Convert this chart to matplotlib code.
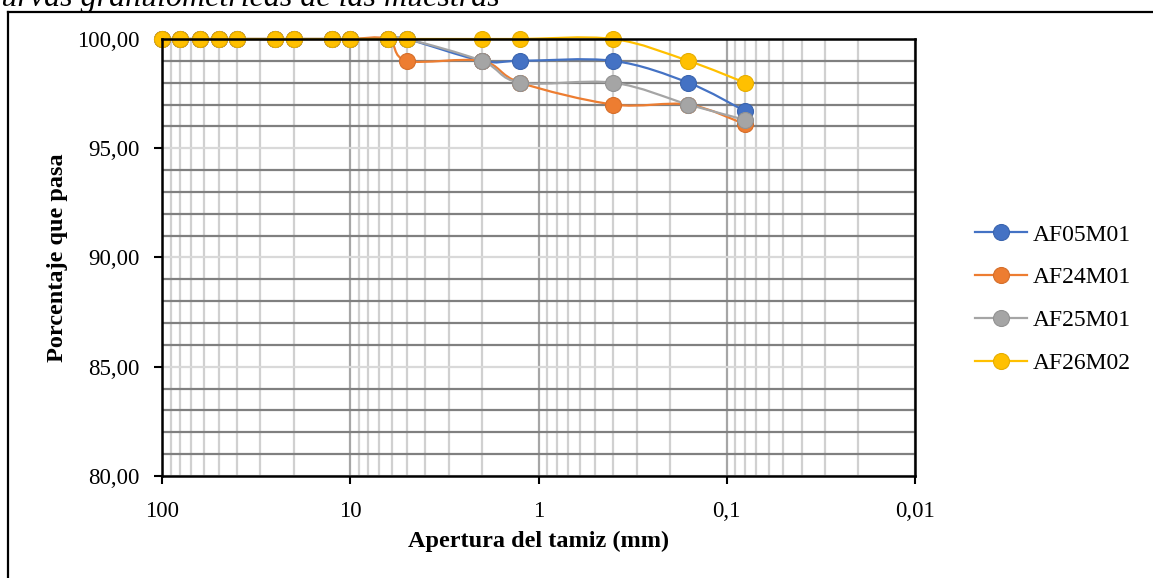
import numpy as np
import matplotlib
matplotlib.use("Agg")
import matplotlib.pyplot as plt
from matplotlib.path import Path
from matplotlib.patches import PathPatch
from matplotlib.lines import Line2D
from matplotlib.ticker import FixedLocator, FuncFormatter, LogLocator, NullFormatter

# ---- data ----
aperture_mm = [100, 80, 63, 50, 40, 25, 20, 12.5, 10, 6.3, 5, 2, 1.25, 0.4, 0.16, 0.08]
series_names = ["AF05M01", "AF24M01", "AF25M01", "AF26M02"]
af05m01 = [100, 100, 100, 100, 100, 100, 100, 100, 100, 100, 100, 99, 99, 99, 98, 96.7]
af24m01 = [100, 100, 100, 100, 100, 100, 100, 100, 100, 100, 99, 99, 98, 97, 97, 96.1]
af25m01 = [100, 100, 100, 100, 100, 100, 100, 100, 100, 100, 100, 99, 98, 98, 97, 96.3]
af26m02 = [100, 100, 100, 100, 100, 100, 100, 100, 100, 100, 100, 100, 100, 100, 99, 98]
colors = ["#4472C4", "#ED7D31", "#A5A5A5", "#FFC000"]
edge_colors = ["#3A64AE", "#D56E2A", "#929292", "#E6AD00"]
y_ticks = [80, 85, 90, 95, 100]
x_ticks = [100, 10, 1, 0.1, 0.01]
x_tick_labels = ["100", "10", "1", "0,1", "0,01"]

plt.rcParams["font.family"] = ["Liberation Serif", "DejaVu Serif"]

W, H = 1153, 578
fig = plt.figure(figsize=(W / 100, H / 100), dpi=100)
ax = fig.add_axes([162 / W, 1 - 476 / H, (915 - 162) / W, (476 - 39) / H])

ax.set_xscale("log")
ax.set_xlim(100, 0.01)
ax.set_ylim(80, 100)


def smooth_path(xs, ys):
    """Excel-like smoothed line: cubic Bezier through the points (log-x space)."""
    lx = np.log10(np.asarray(xs, float))
    yy = np.asarray(ys, float)
    n = len(lx)
    verts = [(xs[0], ys[0])]
    codes = [Path.MOVETO]
    for i in range(n - 1):
        i0 = max(i - 1, 0)
        i3 = min(i + 2, n - 1)
        c1x = lx[i] + (lx[i + 1] - lx[i0]) / 6
        c1y = yy[i] + (yy[i + 1] - yy[i0]) / 6
        c2x = lx[i + 1] - (lx[i3] - lx[i]) / 6
        c2y = yy[i + 1] - (yy[i3] - yy[i]) / 6
        verts += [(10 ** c1x, c1y), (10 ** c2x, c2y), (xs[i + 1], ys[i + 1])]
        codes += [Path.CURVE4] * 3
    return Path(verts, codes)


all_series = [af05m01, af24m01, af25m01, af26m02]
handles = []
for k, (vals, name) in enumerate(zip(all_series, series_names)):
    patch = PathPatch(smooth_path(aperture_mm, vals), facecolor="none",
                      edgecolor=colors[k], lw=1.6, zorder=3 + 2 * k,
                      clip_on=False)
    ax.add_patch(patch)
    ax.plot(aperture_mm, vals, ls="none", marker="o", ms=11.5,
            mfc=colors[k], mec=edge_colors[k], mew=0.8, zorder=4 + 2 * k,
            clip_on=False)
    handles.append(Line2D([], [], color=colors[k], lw=1.6, marker="o", ms=11.5,
                          mfc=colors[k], mec=edge_colors[k], mew=0.8))

# grid
ax.yaxis.set_major_locator(FixedLocator(y_ticks))
ax.yaxis.set_minor_locator(FixedLocator([v for v in range(81, 100) if v % 5]))
ax.yaxis.set_major_formatter(FuncFormatter(lambda v, p: f"{v:.2f}".replace(".", ",")))
ax.xaxis.set_major_locator(FixedLocator(x_ticks))
ax.xaxis.set_major_formatter(FuncFormatter(lambda v, p: x_tick_labels[x_ticks.index(v)] if v in x_ticks else ""))
ax.xaxis.set_minor_locator(LogLocator(base=10, subs=np.arange(2, 10), numticks=20))
ax.xaxis.set_minor_formatter(NullFormatter())

ax.grid(True, which="major", axis="y", color="#D9D9D9", lw=1.6, zorder=1)
ax.grid(True, which="minor", axis="y", color="#808080", lw=1.6, zorder=1)
ax.grid(True, which="major", axis="x", color="#A6A6A6", lw=1.6, zorder=1)
ax.grid(True, which="minor", axis="x", color="#D0D0D0", lw=1.6, zorder=1)
ax.set_axisbelow(True)

ax.tick_params(axis="both", which="major", direction="out", length=6, width=1.5,
               labelsize=16.5, color="black")
ax.tick_params(axis="x", which="major", pad=12)
ax.tick_params(axis="y", which="major", pad=10)
ax.tick_params(axis="both", which="minor", length=0)
for s in ax.spines.values():
    s.set_color("black")
    s.set_linewidth(1.8)
    s.set_zorder(20)

ax.set_xlabel("Apertura del tamiz (mm)", fontsize=17.5, fontweight="bold", labelpad=6)
ax.set_ylabel("Porcentaje que pasa", fontsize=17.5, fontweight="bold", labelpad=7)

leg = fig.legend(handles, series_names, loc="center left",
                 bbox_to_anchor=(975 / W, 1 - 299 / H), frameon=False,
                 fontsize=17, handlelength=2.2, handletextpad=0.25,
                 labelspacing=0.9, borderpad=0, borderaxespad=0)

# outer frame lines
fig.add_artist(Line2D([7.5 / W, 7.5 / W], [0, 1 - 11.5 / H], color="black", lw=1.6,
                      transform=fig.transFigure))
fig.add_artist(Line2D([7.5 / W, 1], [1 - 11.5 / H, 1 - 11.5 / H], color="black", lw=1.6,
                      transform=fig.transFigure))

fig.text(-20 / W, 1 - 6 / H, "Curvas granulométricas de las muestras", fontsize=23,
         style="italic", ha="left", va="baseline")

fig.savefig("out.png", dpi=100)
